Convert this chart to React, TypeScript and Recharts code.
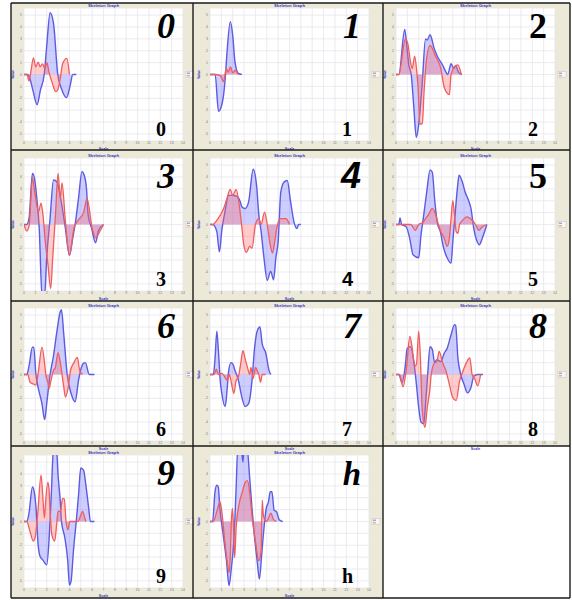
import React from "react";
import { AreaChart, Area, XAxis, YAxis, CartesianGrid } from "recharts";

type Pt = [number, number];

// panel captions (big italic one top-right, small one bottom-right)
const LABELS = ["0", "1", "2", "3", "4", "5", "6", "7", "8", "9", "h"];

const X_TICKS = [0, 1, 2, 3, 4, 5, 6, 7, 8, 9, 10, 11, 12, 13, 14];
const Y_TICKS = [-5, -4, -3, -2, -1, 0, 1, 2, 3, 4, 5];

// [scale, value] vertices
const BLUE_0: Pt[] = [[0, 0], [0.3, 0], [0.5, -0.3], [0.8, -1.4], [1.15, -2.55], [1.45, -1.3], [1.78, 0], [2.0, 2.4], [2.3, 5.2], [2.6, 4.3], [2.97, 0], [3.3, -1.2], [3.75, -1.95], [4.05, -1.0], [4.3, 0], [4.6, 0]];
const RED_0: Pt[] = [[0, 0], [0.25, 0], [0.45, -0.55], [0.6, 0.2], [0.83, 1.4], [1.04, 0.65], [1.25, 1.05], [1.42, 0.65], [1.63, 0.9], [1.84, 0.5], [2.02, 1.0], [2.2, 0.2], [2.5, -0.75], [2.8, -1.45], [2.97, -1.3], [3.2, -0.3], [3.4, 0.9], [3.77, 1.35], [4.0, 0]];

const BLUE_1: Pt[] = [[0, 0], [0.45, 0], [0.75, -3.1], [1.04, -2.55], [1.2, -1.7], [1.35, -0.2], [1.5, 1.9], [1.79, 4.45], [2.0, 3.3], [2.2, 1.05], [2.5, 0.1], [2.8, 0]];
const RED_1: Pt[] = [[0, 0], [0.45, 0], [0.9, -0.1], [1.2, -0.6], [1.43, 0.5], [1.6, 0.2], [1.8, 0.65], [2.0, 0.15], [2.2, 0.35], [2.5, 0]];

const BLUE_2: Pt[] = [[0, 0], [0.25, 0], [0.77, 3.8], [0.92, 2.7], [1.13, 0.8], [1.34, 0], [1.55, -2.5], [1.79, -5.3], [2.0, -4.2], [2.3, -0.9], [2.6, 3.0], [2.75, 2.9], [3.0, 3.35], [3.36, 2.2], [3.66, 1.5], [4.1, 0.8], [4.4, 0.2], [4.55, 0], [4.85, 0.9], [5.1, 0.5], [5.25, 0.75], [5.5, 0.2], [5.8, 0]];
const RED_2: Pt[] = [[0, 0], [0.25, 0], [0.83, 3.0], [1.04, 2.6], [1.28, 1.05], [1.43, 0.5], [1.64, 1.55], [1.82, 0.35], [1.93, -0.9], [2.11, -4.2], [2.32, -4.1], [2.47, -1.45], [2.7, 1.35], [3.0, 2.45], [3.5, 1.5], [3.95, 0.5], [4.25, -1.1], [4.7, -1.7], [4.85, 0], [5.15, 0.65], [5.45, 0.8], [5.75, 0]];

const BLUE_3: Pt[] = [[0, 0], [0.24, 0], [0.45, 0.55], [0.74, 4.3], [0.92, 3.9], [1.13, 2.2], [1.34, -0.3], [1.58, -5.8], [1.82, -5.9], [2.0, -2.8], [2.3, 0.55], [2.6, 3.75], [2.9, 3.6], [3.2, 2.35], [3.64, -0.3], [4.0, -2.6], [4.3, -1.1], [4.5, 0], [4.8, 2.2], [5.1, 4.45], [5.3, 4.15], [5.5, 3.05], [5.65, 0.8], [5.95, -0.3], [6.3, -1.55], [6.55, -0.55], [7.0, 0]];
const RED_3: Pt[] = [[0, 0], [0.24, -0.55], [0.45, -0.1], [0.74, 3.9], [0.98, 2.5], [1.28, 1.1], [1.5, 1.8], [1.67, 0.8], [1.87, -1.4], [2.1, -3.3], [2.35, -5.4], [2.53, -2.8], [2.77, 0.8], [3.0, 4.3], [3.2, 2.2], [3.35, 3.5], [3.64, 0.3], [4.0, -2.6], [4.4, -0.3], [4.8, 0.4], [5.25, 1.0], [5.55, 2.2], [6.0, -0.3], [6.3, -1.1], [6.7, -0.55], [7.0, 0]];

const BLUE_4: Pt[] = [[0, 0], [0.25, 0], [0.6, -0.6], [0.83, -2.3], [1.04, -0.5], [1.34, 1.2], [1.63, 2.45], [1.93, 2.45], [2.3, 2.4], [2.67, 1.9], [2.8, 1.5], [3.1, 1.35], [3.4, 1.9], [3.8, 4.65], [4.1, 3.3], [4.3, 0.8], [4.5, -0.6], [4.75, -2.8], [5.04, -4.7], [5.34, -3.95], [5.6, -4.65], [5.8, -2.8], [6.0, -1.45], [6.23, 2.7], [6.5, 3.55], [6.8, 3.7], [7.1, 1.9], [7.4, 0.2], [7.65, -0.35], [7.8, 0], [8.0, 0]];
const RED_4: Pt[] = [[0, 0], [0.25, 0], [0.6, 0.35], [1.2, 1.35], [1.48, 2.15], [1.78, 2.95], [2.0, 2.45], [2.3, 2.95], [2.6, 1.45], [2.8, -0.2], [2.97, -1.7], [3.2, -2.35], [3.5, -1.85], [3.7, -2.0], [4.0, 0], [4.3, 0.5], [4.5, 0], [4.8, 1.05], [5.04, 0], [5.3, -1.7], [5.5, -2.4], [5.7, -1.45], [5.9, -0.2], [6.2, 0.5], [6.7, 0.5], [7.0, 0]];

const BLUE_5: Pt[] = [[0, 0], [0.25, 0], [0.35, 0.55], [0.5, 0], [0.9, -0.2], [1.2, -1.15], [1.5, -2.55], [2.0, -2.8], [2.2, -0.9], [2.4, 0.5], [2.7, 2.7], [3.0, 4.6], [3.2, 4.4], [3.4, 2.15], [3.63, 0.2], [3.9, -0.6], [4.2, -2.0], [4.5, -2.8], [4.85, -3.25], [5.0, -1.45], [5.2, 0.8], [5.4, 3.0], [5.55, 4.15], [5.8, 3.7], [6.1, 2.7], [6.4, 2.0], [6.6, 1.35], [6.85, -0.35], [7.15, -1.45], [7.35, -1.7], [7.6, -1.15], [8.0, 0]];
const RED_5: Pt[] = [[0, 0], [1.3, 0], [1.7, -0.5], [2.0, 0], [2.4, 0.2], [2.6, 0.5], [2.9, 0.9], [3.2, 1.35], [3.5, 0.8], [3.7, 0.1], [3.9, -0.5], [4.25, -1.15], [4.5, -1.85], [4.7, -1.15], [4.85, 0.5], [5.0, 2.0], [5.15, 0.8], [5.3, -0.6], [5.45, -0.75], [5.6, 0], [5.85, 0.35], [6.25, 0.65], [6.55, 0.5], [7.0, 0], [7.3, -0.5], [7.6, -0.2], [8.0, 0]];

const BLUE_6: Pt[] = [[0, 0], [0.25, 0], [0.45, 0.75], [0.74, 2.3], [0.86, 2.3], [1.05, 0], [1.2, -0.9], [1.58, -2.45], [1.82, -3.8], [2.0, -2.45], [2.3, 0], [2.6, 1.6], [2.9, 3.65], [3.2, 5.3], [3.3, 5.45], [3.5, 3.4], [3.8, 0], [4.15, -1.6], [4.5, -2.3], [4.8, -0.5], [4.9, 0], [5.2, 0.9], [5.4, 1.0], [5.75, 0], [6.2, 0]];
const RED_6: Pt[] = [[0, 0], [0.33, 0], [0.53, -0.65], [0.83, -0.8], [1.05, -0.9], [1.28, 0.35], [1.58, 2.3], [1.82, 0.9], [1.93, -0.1], [2.1, -0.65], [2.2, -1.2], [2.38, -0.5], [2.6, 0.35], [2.75, 0.55], [3.0, 1.85], [3.2, 1.0], [3.5, -1.05], [3.65, -1.9], [3.9, -1.05], [4.1, 0.35], [4.4, 1.0], [4.7, 1.45], [4.9, 0.35], [5.15, 0]];

const BLUE_7: Pt[] = [[0, 0], [0.3, 0], [0.45, 1.45], [0.6, 3.65], [0.74, 2.0], [0.9, -0.5], [1.04, -1.6], [1.34, -2.7], [1.5, -1.35], [1.63, 0.2], [1.85, 1.0], [2.0, 0.9], [2.2, 0.35], [2.5, -0.5], [2.8, -1.9], [3.1, -2.7], [3.4, -2.45], [3.7, -0.5], [3.9, 2.0], [4.15, 3.65], [4.4, 4.0], [4.6, 2.55], [4.9, 1.85], [5.2, 0.35], [5.35, 0]];
const RED_7: Pt[] = [[0, 0], [0.35, 0], [0.55, 0.45], [0.75, 0], [1.04, 0.1], [1.55, -0.5], [1.7, 0], [1.9, -0.8], [2.1, -1.6], [2.3, -0.5], [2.5, -0.2], [2.7, 0.9], [2.9, 2.0], [3.1, 1.3], [3.3, 0.6], [3.5, 0], [3.6, 0.6], [3.8, -0.35], [4.0, 0.6], [4.15, 0.35], [4.3, 0], [4.45, -0.65], [4.6, 0], [4.9, 0]];

const BLUE_8: Pt[] = [[0, 0], [0.25, 0], [0.53, -0.7], [0.83, 0.85], [0.98, 2.2], [1.28, 2.35], [1.57, 1.1], [1.8, -0.85], [2.0, -2.8], [2.2, -4.0], [2.45, -4.15], [2.6, -2.5], [2.75, -0.55], [3.0, 2.35], [3.2, 2.1], [3.4, 1.0], [3.6, 1.25], [3.95, 1.1], [4.25, 1.8], [4.5, 2.2], [4.85, 3.35], [5.15, 4.2], [5.25, 4.15], [5.45, 1.4], [5.7, 0], [6.0, -0.85], [6.3, -1.55], [6.6, -1.1], [6.85, -0.15], [7.2, 0], [7.65, 0]];
const RED_8: Pt[] = [[0, 0], [0.3, 0], [0.62, -1.05], [0.92, 0.55], [1.22, 3.2], [1.43, 2.2], [1.64, 0.7], [1.8, 0.85], [2.0, 3.65], [2.17, 0.85], [2.3, -2.8], [2.55, -4.45], [2.75, -2.8], [3.0, -1.1], [3.1, 0], [3.4, 1.0], [3.6, 1.1], [3.8, 1.95], [4.1, 1.0], [4.4, 0.3], [4.7, -0.85], [5.0, -1.95], [5.3, -2.2], [5.6, -0.55], [5.9, 0.3], [6.2, 1.0], [6.5, 1.4], [6.7, 0], [6.9, -0.3], [7.2, -0.95], [7.45, 0]];

const BLUE_9: Pt[] = [[0, 0], [0.24, 0], [0.44, 0.7], [0.74, 2.9], [0.9, 2.5], [1.1, 0.55], [1.2, -1.4], [1.4, -2.9], [1.7, -3.3], [2.0, -3.65], [2.2, -1.65], [2.4, 2.2], [2.6, 6.2], [2.85, 6.3], [3.0, 3.9], [3.2, 1.65], [3.3, 0], [3.6, -1.4], [3.85, -3.3], [4.0, -5.35], [4.15, -5.0], [4.35, -2.5], [4.6, 0], [4.8, 2.2], [5.0, 4.5], [5.25, 4.3], [5.45, 3.05], [5.7, 1.1], [5.85, 0], [6.2, 0]];
const RED_9: Pt[] = [[0, 0], [0.24, 0], [0.53, -0.85], [0.82, -1.65], [0.97, -1.4], [1.2, 0.55], [1.5, 3.9], [1.65, 2.2], [1.8, 0.3], [1.9, 1.65], [2.1, 3.3], [2.2, 2.8], [2.3, 0.85], [2.45, -1.1], [2.7, -1.65], [2.9, 0], [3.0, 0.85], [3.2, 0.85], [3.4, 1.95], [3.55, 1.9], [3.7, 0], [3.85, -0.7], [4.05, 0], [4.75, 0], [4.95, 0.4], [5.15, 0.85], [5.35, 0.3], [5.45, 0]];

const BLUE_H: Pt[] = [[0, 0], [0.23, 0], [0.44, 2.5], [0.6, 3.05], [0.73, 2.9], [0.87, 1.1], [1.16, -1.1], [1.45, -3.3], [1.68, -5.4], [1.88, -3.9], [2.1, -1.65], [2.3, 2.8], [2.45, 6.3], [2.75, 6.3], [2.9, 5.0], [3.0, 6.3], [3.25, 6.3], [3.5, 3.6], [3.7, 1.1], [3.9, -1.1], [4.15, -3.3], [4.35, -4.85], [4.55, -2.8], [4.7, -1.1], [4.95, 1.1], [5.15, 1.65], [5.3, 2.5], [5.45, 2.5], [5.65, 0.95], [5.85, 0.85], [6.1, 0.15], [6.4, 0]];
const RED_H: Pt[] = [[0, 0], [0.3, 0], [0.6, 0.85], [0.87, 1.65], [1.0, 1.1], [1.3, -1.65], [1.5, -3.3], [1.68, -4.3], [1.8, -2.5], [1.88, 0], [1.97, 1.1], [2.05, 0], [2.17, -3.05], [2.3, -0.55], [2.55, 1.4], [2.85, 2.5], [3.1, 3.3], [3.3, 3.45], [3.55, 1.95], [3.75, 0], [4.0, -1.65], [4.3, -3.3], [4.5, -2.5], [4.6, 1.8], [4.7, 0.5], [4.95, 0], [5.15, 0.3], [5.35, 0.7], [5.6, 0.15], [5.85, 0]];

const BLUE = [BLUE_0, BLUE_1, BLUE_2, BLUE_3, BLUE_4, BLUE_5, BLUE_6, BLUE_7, BLUE_8, BLUE_9, BLUE_H];
const RED = [RED_0, RED_1, RED_2, RED_3, RED_4, RED_5, RED_6, RED_7, RED_8, RED_9, RED_H];

// page grid
const COLS = [11, 193, 383, 570];
const ROWS = [3, 150, 301, 446, 598];
const PLOT_LEFT = [24, 210, 396];
const PLOT_TOP = [8, 158, 308, 455];
const PW = 159;
const PH = 133;
const YW = 10;
const XH = 6;
const RM = 4; // room for the last x tick label

const SERIF = "'Liberation Serif', 'Times New Roman', serif";
const SANS = "'Liberation Sans', Arial, sans-serif";
const TINY_BLUE = "#3838c8";

function mergeRows(blue: Pt[], red: Pt[]) {
  const xs = Array.from(new Set([...blue.map((p) => p[0]), ...red.map((p) => p[0])])).sort((a, b) => a - b);
  const bm = new Map(blue);
  const rm = new Map(red);
  return xs.map((x) => ({
    x,
    blue: bm.has(x) ? bm.get(x) : null,
    red: rm.has(x) ? rm.get(x) : null,
  }));
}

function Panel({ idx }: { idx: number }) {
  const col = idx % 3;
  const row = Math.floor(idx / 3);
  const data = mergeRows(BLUE[idx], RED[idx]);
  return (
    <div
      style={{
        position: "absolute",
        left: PLOT_LEFT[col] - YW,
        top: PLOT_TOP[row],
        width: PW + YW + RM,
        height: PH + XH,
      }}
    >
      <AreaChart width={PW + YW + RM} height={PH + XH} data={data} margin={{ top: 0, right: RM, bottom: 0, left: 0 }}>
        <CartesianGrid stroke="#e6e6ec" strokeWidth={0.8} fill="#ffffff" fillOpacity={1} />
        <XAxis
          type="number"
          dataKey="x"
          domain={[0, 14]}
          ticks={X_TICKS}
          allowDataOverflow
          height={XH}
          axisLine={false}
          tickLine={false}
          tickSize={0}
          tickMargin={1}
          tick={{ fontSize: 3.5, fill: "#7a7a7a", fontFamily: SANS }}
          interval={0}
        />
        <YAxis
          type="number"
          domain={[-5.6, 5.6]}
          ticks={Y_TICKS}
          allowDataOverflow
          width={YW}
          axisLine={false}
          tickLine={false}
          tickSize={0}
          tickMargin={2}
          tick={{ fontSize: 3.5, fill: "#7a7a7a", fontFamily: SANS }}
          interval={0}
        />
        <Area
          type="monotone"
          dataKey="blue"
          baseValue={0}
          connectNulls
          stroke="#5c5ce0"
          strokeWidth={1.4}
          fill="#7474ff"
          fillOpacity={0.36}
          dot={false}
          activeDot={false}
          isAnimationActive={false}
        />
        <Area
          type="monotone"
          dataKey="red"
          baseValue={0}
          connectNulls
          stroke="#ee5e5e"
          strokeWidth={1.3}
          fill="#ff6a6a"
          fillOpacity={0.35}
          dot={false}
          activeDot={false}
          isAnimationActive={false}
        />
      </AreaChart>
    </div>
  );
}

function Decor({ idx }: { idx: number }) {
  const col = idx % 3;
  const row = Math.floor(idx / 3);
  const pl = PLOT_LEFT[col];
  const pt = PLOT_TOP[row];
  const pr = pl + PW;
  const pb = pt + PH;
  const cx = pl + PW / 2;
  const zy = pt + PH / 2;
  const lab = LABELS[idx];
  const upright = lab === "2" || lab === "5";
  const fam = lab === "4" ? SANS : SERIF;
  return (
    <g>
      <text x={cx} y={pt - 1.5} textAnchor="middle" fontSize={4.2} fontWeight="bold" fill={TINY_BLUE} fontFamily={SANS}>
        Skeleton Graph
      </text>
      <text x={cx} y={pb + 8.5} textAnchor="middle" fontSize={3.6} fontWeight="bold" fill={TINY_BLUE} fontFamily={SANS}>
        Scale
      </text>
      <text
        x={pl - 10}
        y={zy}
        textAnchor="middle"
        fontSize={3.5}
        fontWeight="bold"
        fill={TINY_BLUE}
        fontFamily={SANS}
        transform={`rotate(-90 ${pl - 10} ${zy})`}
      >
        Value
      </text>
      <rect x={pr + 3} y={zy - 3} width={8} height={6} fill="#f6f6f2" stroke="#c4c4bc" strokeWidth={0.5} />
      <line x1={pr + 4} x2={pr + 7} y1={zy - 1.3} y2={zy - 1.3} stroke="#5c5ce0" strokeWidth={0.8} />
      <line x1={pr + 4} x2={pr + 7} y1={zy + 1.3} y2={zy + 1.3} stroke="#ee5e5e" strokeWidth={0.8} />
      <text
        x={pr - 8}
        y={pt + 30}
        textAnchor="end"
        fontSize={lab === "h" ? 33 : 36}
        fontWeight="bold"
        fontStyle={upright ? "normal" : "italic"}
        fontFamily={fam}
        fill="#000"
      >
        {lab}
      </text>
      <text x={pr - 27} y={pb - 5} fontSize={20} fontWeight="bold" fontFamily={fam} fill="#000">
        {lab}
      </text>
    </g>
  );
}

export default function App() {
  const cells = [];
  for (let r = 0; r < 4; r++) {
    for (let c = 0; c < 3; c++) {
      const i = r * 3 + c;
      cells.push(
        <div
          key={`bg${i}`}
          style={{
            position: "absolute",
            left: COLS[c],
            top: ROWS[r],
            width: COLS[c + 1] - COLS[c],
            height: ROWS[r + 1] - ROWS[r],
            background: i < LABELS.length ? "#ece9d8" : "#ffffff",
          }}
        />
      );
    }
  }
  return (
    <div style={{ position: "absolute", left: 0, top: 0, width: 572, height: 600, background: "#fff", overflow: "hidden" }}>
      {cells}
      {LABELS.map((_, i) => (
        <Panel key={i} idx={i} />
      ))}
      <svg width={572} height={600} style={{ position: "absolute", left: 0, top: 0, pointerEvents: "none" }}>
        {LABELS.map((_, i) => (
          <Decor key={i} idx={i} />
        ))}
        {COLS.map((x) => (
          <line key={`v${x}`} x1={x} x2={x} y1={ROWS[0]} y2={ROWS[4]} stroke="#1a1a1a" strokeWidth={1.4} />
        ))}
        {ROWS.map((y) => (
          <line key={`h${y}`} x1={COLS[0]} x2={COLS[3]} y1={y} y2={y} stroke="#1a1a1a" strokeWidth={1.4} />
        ))}
      </svg>
    </div>
  );
}
